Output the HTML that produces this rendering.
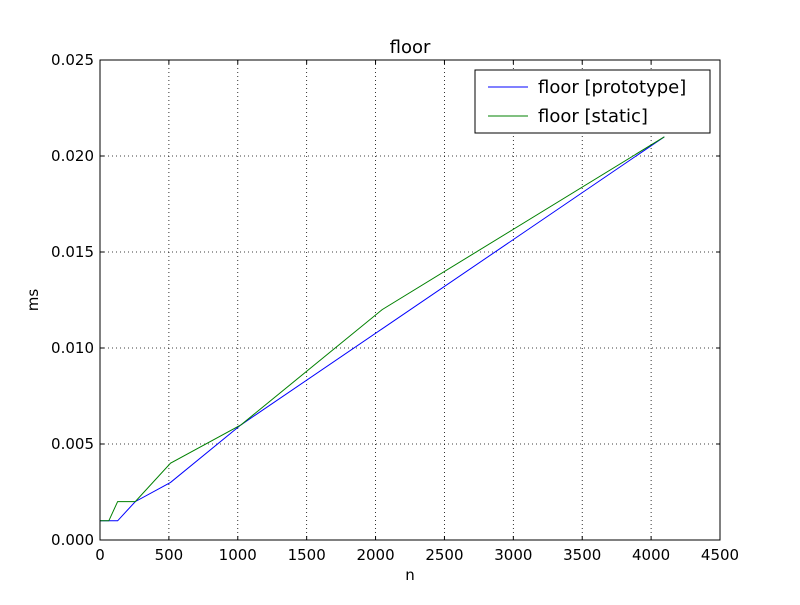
<!DOCTYPE html>
<html><head><meta charset="utf-8"><style>
body{margin:0;background:#fff;}
svg text{font-family:"DejaVu Sans","Liberation Sans",sans-serif;}
</style></head><body>
<svg id="chart" width="800" height="600" xmlns="http://www.w3.org/2000/svg">
<rect width="800" height="600" fill="#fff"/>
<g id="grid"></g>
<g id="series"></g>
<rect x="100" y="60" width="620" height="480" fill="none" stroke="#000" stroke-width="1"/>
<g id="ticks"></g>
<text x="410" y="53" font-size="18" text-anchor="middle">floor</text>
<text x="410" y="580" font-size="15" text-anchor="middle">n</text>
<text x="38" y="300" font-size="15" text-anchor="middle" transform="rotate(-90 38 300)">ms</text>
<g>
<rect x="475" y="70" width="235" height="63" fill="#fff" stroke="#000"/>
<line x1="488" y1="87" x2="528" y2="87" stroke="#0000ff"/>
<text x="538" y="93" font-size="18">floor [prototype]</text>
<line x1="488" y1="116" x2="528" y2="116" stroke="#008000"/>
<text x="538" y="122" font-size="18">floor [static]</text>
</g>
</svg>
<script>
const nValues=[1,2,4,8,16,32,64,128,256,512,1024,2048,4096];
const prototypeMs=[0.001,0.001,0.001,0.001,0.001,0.001,0.001,0.001,0.002,0.003,0.006,0.011,0.021];
const staticMs=[0.001,0.001,0.001,0.001,0.001,0.001,0.001,0.002,0.002,0.004,0.006,0.012,0.021];
const xTicks=[0,500,1000,1500,2000,2500,3000,3500,4000,4500];
const yTicks=[0,0.005,0.010,0.015,0.020,0.025];
const yTickLabels=["0.000","0.005","0.010","0.015","0.020","0.025"];
const NS="http://www.w3.org/2000/svg";
const L=100,R=720,T=60,B=540;
function xs(v){return L+(v/4500)*(R-L);}
function ys(v){return B-(v/0.025)*(B-T);}
function mk(tag,attrs,parent){const e=document.createElementNS(NS,tag);for(const k in attrs)e.setAttribute(k,attrs[k]);parent.appendChild(e);return e;}
const grid=document.getElementById('grid'),ticks=document.getElementById('ticks'),series=document.getElementById('series');
xTicks.forEach(t=>{const x=xs(t);
 if(t>0&&t<4500){const g=mk('line',{x1:x,y1:T,x2:x,y2:B,stroke:'#000','stroke-dasharray':'1,3','stroke-width':0.8},grid);
 
 }
 const a=mk('line',{x1:x,y1:B,x2:x,y2:B-4,stroke:'#000'},ticks);
 
 
 const b=mk('line',{x1:x,y1:T,x2:x,y2:T+4,stroke:'#000'},ticks);
 
 
 const tx=mk('text',{x:x,y:B+20,'font-size':15,'text-anchor':'middle'},ticks);tx.textContent=t;
 
 
});
yTicks.forEach((t,i)=>{const y=ys(t);
 if(i>0&&i<yTicks.length-1){const g=mk('line',{x1:L,y1:y,x2:R,y2:y,stroke:'#000','stroke-dasharray':'1,3','stroke-width':0.8},grid);
 
 }
 const a=mk('line',{x1:L,y1:y,x2:L+4,y2:y,stroke:'#000'},ticks);
 
 
 const b=mk('line',{x1:R,y1:y,x2:R-4,y2:y,stroke:'#000'},ticks);
 
 
 const tx=mk('text',{x:L-6,y:y+5,'font-size':15,'text-anchor':'end'},ticks);tx.textContent=yTickLabels[i];
 
 
});
function line(vals,color,name){
 const pts=nValues.map((n,i)=>xs(n)+','+ys(vals[i])).join(' ');
 const p=mk('polyline',{points:pts,fill:'none',stroke:color,'stroke-width':1},series);
 
 
}
line(prototypeMs,'#0000ff','line-prototype');
line(staticMs,'#008000','line-static');
</script>
</body></html>
